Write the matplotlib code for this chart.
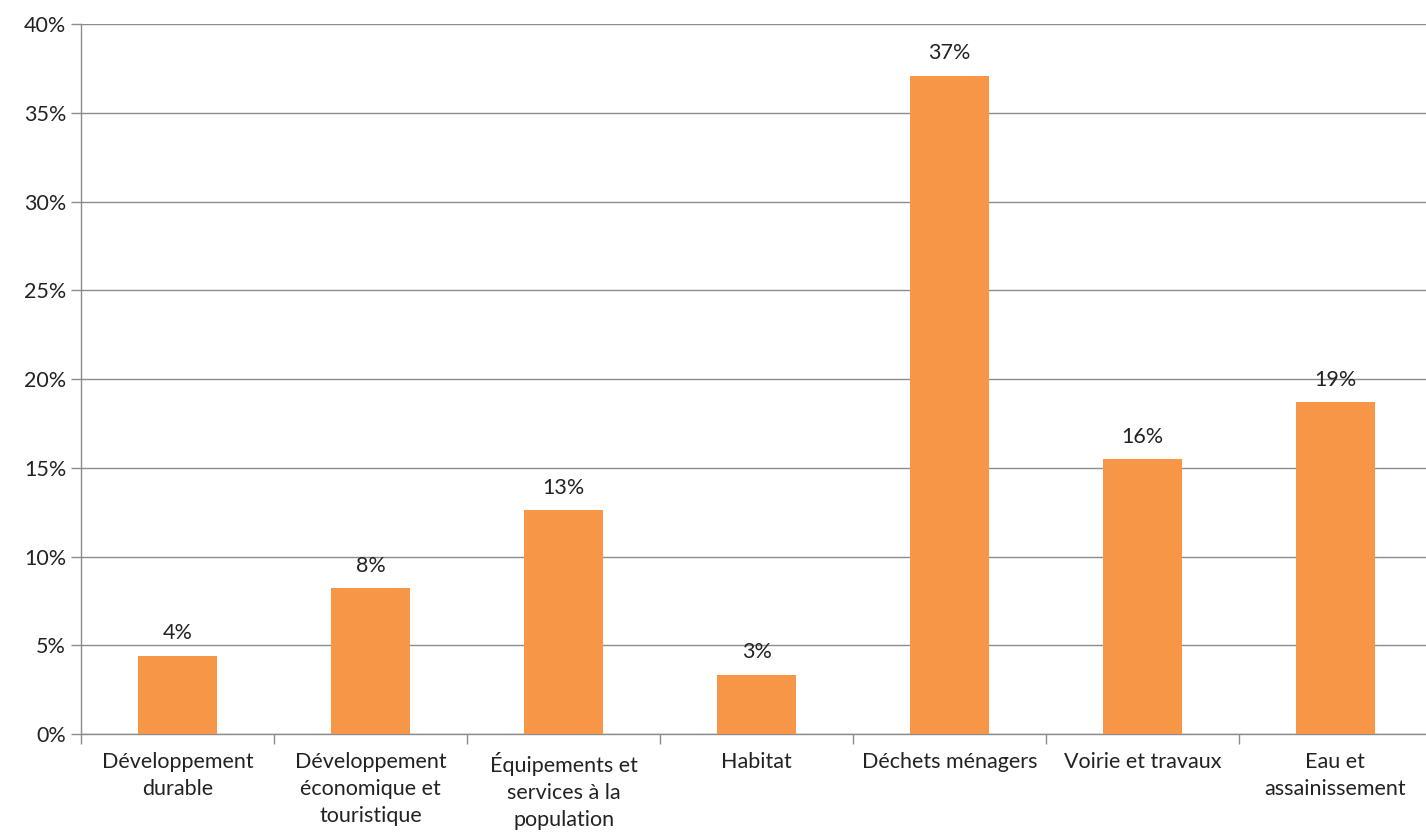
import matplotlib.pyplot as plt
import numpy as np

plt.rcParams['font.family'] = ['Lato', 'DejaVu Sans']

categories = ["Développement\ndurable", "Développement\néconomique et\ntouristique",
              "Équipements et\nservices à la\npopulation", "Habitat",
              "Déchets ménagers", "Voirie et travaux", "Eau et\nassainissement"]
parts = [4.4, 8.2, 12.6, 3.35, 37.1, 15.5, 18.7]
yticks = [0, 5, 10, 15, 20, 25, 30, 35, 40]

fig = plt.figure(figsize=(14.26, 8.35), dpi=100)
ax = fig.add_axes([0.0571, 0.121, 0.947, 0.850])

x = np.arange(len(categories))
ax.bar(x, parts, width=0.41, color='#F79646', zorder=3)
for xi, v in zip(x, parts):
    ax.text(xi, v + 0.7, f"{v:.0f}%", ha='center', va='bottom', fontsize=15.5, color='#222222')

ax.set_xlim(-0.5, len(categories) - 0.5)
ax.set_ylim(0, 40)
ax.set_yticks(yticks)
ax.set_yticklabels([f"{t}%" for t in yticks], fontsize=15.5, color='#222222')
ax.yaxis.grid(True, color='#8c8c8c', linewidth=1.0, zorder=0)

# category labels centred, tick marks on the boundaries
ax.set_xticks(x)
ax.set_xticklabels(categories, fontsize=15.5, color='#222222', linespacing=1.45)
ax.tick_params(axis='x', length=0, pad=13)
ax.set_xticks(np.arange(len(categories) + 1) - 0.5, minor=True)
ax.tick_params(axis='x', which='minor', length=7, color='#8c8c8c', width=1.0)
ax.tick_params(axis='y', length=7, color='#8c8c8c', width=1.0, pad=4)

for s in ['top', 'right']:
    ax.spines[s].set_visible(False)
for s in ['left', 'bottom']:
    ax.spines[s].set_color('#8c8c8c')
    ax.spines[s].set_linewidth(1.0)

fig.savefig('out.png', dpi=100)
